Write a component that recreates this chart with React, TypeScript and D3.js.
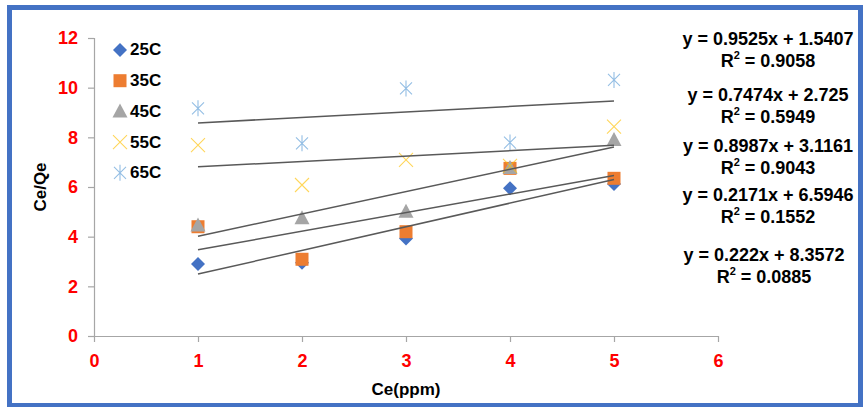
import React, { useEffect, useRef } from 'react';
import * as d3 from 'd3';

const xValues = [1, 2, 3, 4, 5];
const seriesNames = ['25C', '35C', '45C', '55C', '65C'];
const seriesColors = ['#4472C4', '#ED7D31', '#A5A5A5', '#FFC000', '#5B9BD5'];
const values25 = [2.9, 2.95, 3.93, 5.95, 6.12];
const values35 = [4.4, 3.09, 4.2, 6.75, 6.35];
const values45 = [4.45, 4.74, 5.0, 6.77, 7.89];
const values55 = [7.69, 6.08, 7.09, 6.85, 8.43];
const values65 = [9.17, 7.76, 9.97, 7.79, 10.31];
const slopes = [0.9525, 0.7474, 0.8987, 0.2171, 0.222];
const intercepts = [1.5407, 2.725, 3.1161, 6.5946, 8.3572];
const rSquared = ['0.9058', '0.5949', '0.9043', '0.1552', '0.0885'];
const xTicks = [0, 1, 2, 3, 4, 5, 6];
const yTicks = [0, 2, 4, 6, 8, 10, 12];

const allValues = [values25, values35, values45, values55, values65];

const App = () => {
  const ref = useRef<SVGSVGElement | null>(null);

  useEffect(() => {
    if (!ref.current) return;
    const svg = d3.select(ref.current);
    svg.selectAll('*').remove();

    const font = '"Liberation Sans", Arial, sans-serif';
    const left = 94;
    const right = 718;
    const top = 38;
    const bottom = 336;

    const x = d3.scaleLinear().domain([0, 6]).range([left, right]);
    const y = d3.scaleLinear().domain([0, 12]).range([bottom, top]);

    svg.append('rect').attr('width', 864).attr('height', 407).attr('fill', '#fff');

    // outer blue frame
    svg
      .append('rect')
      .attr('x', 9.5)
      .attr('y', 7.5)
      .attr('width', 851)
      .attr('height', 398)
      .attr('fill', 'none')
      .attr('stroke', '#4472C4')
      .attr('stroke-width', 5);

    // axes
    const axisColor = '#A6A6A6';
    const yAxis = svg
      .append('g')
      .attr('transform', `translate(${left},0)`)
      .call(d3.axisLeft(y).tickValues(yTicks).tickFormat(d3.format('d')).tickSize(6).tickPadding(10));
    const xAxis = svg
      .append('g')
      .attr('transform', `translate(0,${bottom})`)
      .call(d3.axisBottom(x).tickValues(xTicks).tickFormat(d3.format('d')).tickSize(6).tickPadding(12));
    [xAxis, yAxis].forEach((a) => {
      a.select('.domain').attr('stroke', axisColor).attr('stroke-width', 1.2);
      a.selectAll('.tick line').attr('stroke', axisColor).attr('stroke-width', 1.2);
      a.selectAll('.tick text')
        .attr('fill', '#FF0000')
        .attr('font-family', font)
        .attr('font-weight', 'bold')
        .attr('font-size', 18);
    });
    yAxis.select('.domain').attr('d', `M0.5,${bottom}V${top}`);
    xAxis.select('.domain').attr('d', `M${left},0.5H${right}`);

    // axis titles
    svg
      .append('text')
      .attr('transform', `translate(42,187) rotate(-90)`)
      .attr('text-anchor', 'middle')
      .attr('dominant-baseline', 'middle')
      .attr('font-family', font)
      .attr('font-weight', 'bold')
      .attr('font-size', 17)
      .text('Ce/Qe');
    svg
      .append('text')
      .attr('x', 406)
      .attr('y', 391)
      .attr('text-anchor', 'middle')
      .attr('dominant-baseline', 'middle')
      .attr('font-family', font)
      .attr('font-weight', 'bold')
      .attr('font-size', 17)
      .text('Ce(ppm)');

    const drawMarker = (
      g: d3.Selection<SVGGElement, unknown, null, undefined>,
      index: number,
      cx: number,
      cy: number
    ) => {
      const c = seriesColors[index];
      if (index === 0) {
        g.append('path')
          .attr('d', `M${cx},${cy - 7}L${cx + 7},${cy}L${cx},${cy + 7}L${cx - 7},${cy}Z`)
          .attr('fill', c);
      } else if (index === 1) {
        g.append('rect')
          .attr('x', cx - 6.5)
          .attr('y', cy - 6.5)
          .attr('width', 13)
          .attr('height', 13)
          .attr('fill', c);
      } else if (index === 2) {
        g.append('path')
          .attr('d', `M${cx},${cy - 8}L${cx + 7.5},${cy + 6}L${cx - 7.5},${cy + 6}Z`)
          .attr('fill', c);
      } else if (index === 3) {
        g.append('path')
          .attr('d', `M${cx - 7},${cy - 7}L${cx + 7},${cy + 7}M${cx + 7},${cy - 7}L${cx - 7},${cy + 7}`)
          .attr('stroke', c)
          .attr('stroke-width', 1.1)
          .attr('fill', 'none')
          .attr('opacity', 0.65);
      } else {
        g.append('path')
          .attr(
            'd',
            `M${cx - 6},${cy - 6}L${cx + 6},${cy + 6}M${cx + 6},${cy - 6}L${cx - 6},${cy + 6}M${cx},${cy - 8}L${cx},${cy + 8}`
          )
          .attr('stroke', c)
          .attr('stroke-width', 1.1)
          .attr('fill', 'none')
          .attr('opacity', 0.65);
      }
    };

    // markers
    const marks = svg.append('g');
    allValues.forEach((vals, i) => {
      vals.forEach((v, j) => drawMarker(marks, i, x(xValues[j]), y(v)));
    });

    // linear trendlines from the fitted equations, over the data's x range
    const x0 = d3.min(xValues)!;
    const x1 = d3.max(xValues)!;
    const line = d3
      .line<number>()
      .x((d) => x(d[0]))
      .y((d) => y(d[1]));
    slopes.forEach((m, i) => {
      svg
        .append('path')
        .datum([
          [x0, m * x0 + intercepts[i]],
          [x1, m * x1 + intercepts[i]],
        ] as any)
        .attr('d', line as any)
        .attr('stroke', '#595959')
        .attr('stroke-width', 1.5)
        .attr('fill', 'none');
    });

    // legend
    const legend = svg.append('g');
    seriesNames.forEach((name, i) => {
      const ly = 50 + i * 30.7;
      drawMarker(legend, i, 120, ly);
      legend
        .append('text')
        .attr('x', 130)
        .attr('y', ly + 1)
        .attr('dominant-baseline', 'middle')
        .attr('font-family', font)
        .attr('font-weight', 'bold')
        .attr('font-size', 17)
        .text(name);
    });

    // equation labels
    const eqY = [40, 96, 147, 196, 256];
    const eqX = [768, 768, 768, 768, 764];
    slopes.forEach((m, i) => {
      const t = svg
        .append('text')
        .attr('text-anchor', 'middle')
        .attr('font-family', font)
        .attr('font-weight', 'bold')
        .attr('font-size', 18);
      t.append('tspan')
        .attr('x', eqX[i])
        .attr('y', eqY[i])
        .attr('dominant-baseline', 'middle')
        .text(`y = ${m}x + ${intercepts[i]}`);
      const r = t
        .append('tspan')
        .attr('x', eqX[i])
        .attr('y', eqY[i] + 22)
        .attr('dominant-baseline', 'middle');
      r.append('tspan').text('R');
      r.append('tspan').attr('font-size', 11).attr('dy', -6).text('2');
      r.append('tspan').attr('dy', 6).text(` = ${rSquared[i]}`);
    });
  }, []);

  return (
    <svg
      ref={ref}
      width={864}
      height={407}
      style={{ position: 'absolute', left: 0, top: 0, display: 'block' }}
    />
  );
};

export default App;
